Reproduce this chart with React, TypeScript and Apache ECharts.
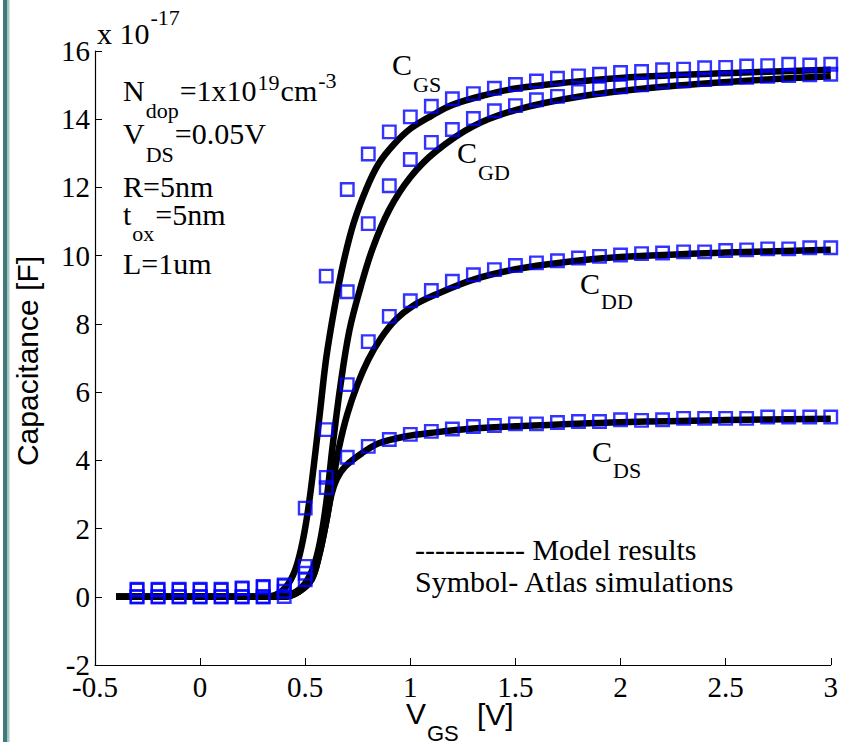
import React, { useEffect, useRef } from 'react';
import * as echarts from 'echarts';

// ---------- data ----------
const xTickValues = [-0.5, 0, 0.5, 1, 1.5, 2, 2.5, 3];
const yTickValues = [-2, 0, 2, 4, 6, 8, 10, 12, 14, 16];

// Atlas simulation points (symbols), V_GS in volts, capacitance in 1e-17 F
const vgsSim = [-0.3, -0.2, -0.1, 0, 0.1, 0.2, 0.3, 0.4, 0.5, 0.6, 0.7, 0.8, 0.9, 1.0, 1.1, 1.2, 1.3, 1.4, 1.5, 1.6, 1.7, 1.8, 1.9, 2.0, 2.1, 2.2, 2.3, 2.4, 2.5, 2.6, 2.7, 2.8, 2.9, 3.0];
const cgsSim = [0.22, 0.22, 0.22, 0.22, 0.22, 0.26, 0.3, 0.35, 2.6, 9.4, 11.94, 12.98, 13.63, 14.07, 14.38, 14.6, 14.75, 14.91, 15.02, 15.12, 15.2, 15.27, 15.32, 15.37, 15.4, 15.45, 15.47, 15.51, 15.52, 15.56, 15.57, 15.61, 15.59, 15.61];
const cgdSim = [0.2, 0.2, 0.2, 0.2, 0.2, 0.24, 0.28, 0.32, 0.89, 4.9, 8.94, 10.94, 12.05, 12.82, 13.32, 13.7, 14.02, 14.25, 14.4, 14.57, 14.67, 14.81, 14.89, 14.95, 15.01, 15.1, 15.13, 15.16, 15.2, 15.23, 15.26, 15.28, 15.3, 15.32];
const cddSim = [0, 0, 0, 0, 0, 0, 0, 0.16, 0.69, 3.5, 6.22, 7.48, 8.22, 8.68, 8.98, 9.25, 9.44, 9.59, 9.71, 9.79, 9.85, 9.93, 9.98, 10.02, 10.06, 10.08, 10.11, 10.11, 10.15, 10.17, 10.2, 10.2, 10.23, 10.23];
const cdsSim = [0, 0, 0, 0, 0, 0, 0, 0.01, 0.5, 3.2, 4.09, 4.41, 4.61, 4.76, 4.85, 4.92, 4.99, 5.02, 5.07, 5.07, 5.11, 5.14, 5.14, 5.19, 5.17, 5.19, 5.23, 5.23, 5.23, 5.23, 5.27, 5.27, 5.27, 5.27];

// Model results (solid lines)
const cgsModelV = [-0.4, 0.3, 0.36, 0.41, 0.45, 0.48, 0.51, 0.54, 0.57, 0.6, 0.64, 0.68, 0.73, 0.79, 0.85, 0.92, 1.0, 1.1, 1.2, 1.35, 1.5, 1.75, 2.0, 2.5, 3.0];
const cgsModelC = [0, 0, 0.06, 0.3, 0.75, 1.4, 2.4, 3.8, 5.4, 7.0, 8.5, 9.75, 10.95, 11.95, 12.7, 13.25, 13.72, 14.1, 14.42, 14.7, 14.9, 15.08, 15.21, 15.35, 15.45];
const cgdModelV = [-0.4, 0.36, 0.44, 0.5, 0.54, 0.57, 0.6, 0.63, 0.67, 0.71, 0.76, 0.82, 0.9, 1.0, 1.12, 1.3, 1.5, 1.8, 2.2, 2.6, 3.0];
const cgdModelC = [0, 0, 0.1, 0.4, 0.89, 1.6, 2.75, 4.4, 6.3, 7.8, 9.0, 10.2, 11.35, 12.3, 13.05, 13.8, 14.27, 14.66, 14.95, 15.13, 15.26];
const cddModelV = [-0.4, 0.4, 0.47, 0.53, 0.565, 0.6, 0.63, 0.66, 0.7, 0.75, 0.8, 0.86, 0.93, 1.01, 1.12, 1.3, 1.5, 1.75, 2.0, 2.5, 3.0];
const cddModelC = [0, 0, 0.15, 0.5, 1.18, 2.2, 3.3, 4.35, 5.35, 6.25, 6.95, 7.58, 8.12, 8.52, 8.86, 9.3, 9.6, 9.82, 9.96, 10.09, 10.17];
const cdsModelV = [-0.4, 0.4, 0.47, 0.53, 0.565, 0.6, 0.625, 0.65, 0.69, 0.77, 0.85, 0.975, 1.12, 1.3, 1.5, 2.0, 2.5, 3.0];
const cdsModelC = [0, 0, 0.15, 0.5, 1.18, 2.2, 3.0, 3.45, 3.82, 4.21, 4.5, 4.7, 4.82, 4.93, 5.0, 5.12, 5.18, 5.22];

// ---------- styling ----------
const SERIF = "'Liberation Serif', 'Times New Roman', Times, serif";
const SANS = "'Liberation Sans', Arial, Helvetica, sans-serif";

let measureCtx: CanvasRenderingContext2D | null = null;
function measure(text: string, size: number, family: string): number {
  if (!measureCtx) measureCtx = document.createElement('canvas').getContext('2d');
  measureCtx!.font = `${size}px ${family}`;
  return measureCtx!.measureText(text).width;
}

type Part = { t: string; s: number; y: number; gap?: number };
function textRun(x0: number, parts: Part[], family: string = SERIF): any[] {
  let x = x0;
  const out: any[] = [];
  for (const p of parts) {
    out.push({
      type: 'text',
      x,
      y: p.y,
      silent: true,
      style: { text: p.t, fill: '#000', font: `${p.s}px ${family}`, align: 'left', verticalAlign: 'middle' },
    });
    x += measure(p.t, p.s, family) + (p.gap ?? 1);
  }
  return out;
}

const zip = (xs: number[], ys: number[]) => xs.map((x, i) => [x, ys[i]]);

function buildOption() {
  const lineSeries = (name: string, v: number[], c: number[]) => ({
    name,
    type: 'line',
    data: zip(v, c),
    showSymbol: false,
    symbol: 'none',
    smooth: 0.35,
    lineStyle: { color: '#000', width: 6.5, join: 'round' },
    z: 2,
    silent: true,
  });
  const simSeries = (name: string, c: number[]) => ({
    name,
    type: 'scatter',
    data: zip(vgsSim, c),
    symbol: 'rect',
    symbolSize: 12.5,
    itemStyle: { color: 'rgba(0,0,0,0)', borderColor: '#0000ff', borderWidth: 2.4 },
    z: 3,
    silent: true,
  });

  const graphics: any[] = [
    // left decorative bar
    { type: 'rect', shape: { x: 3, y: 0, width: 4.5, height: 742 }, style: { fill: '#407a78' }, silent: true },
    { type: 'rect', shape: { x: 7.5, y: 0, width: 2, height: 742 }, style: { fill: '#a9c6c4' }, silent: true },
    // exponent
    ...textRun(97, [{ t: 'x 10', s: 30, y: 33 }, { t: '-17', s: 22, y: 17 }]),
    // annotations
    ...textRun(123, [
      { t: 'N', s: 30, y: 90 },
      { t: 'dop', s: 22, y: 110 },
      { t: '=1x10', s: 30, y: 90 },
      { t: '19', s: 22, y: 82 },
      { t: 'cm', s: 30, y: 90 },
      { t: '-3', s: 22, y: 80 },
    ]),
    ...textRun(123, [
      { t: 'V', s: 30, y: 133 },
      { t: 'DS', s: 22, y: 154 },
      { t: '=0.05V', s: 30, y: 133 },
    ]),
    ...textRun(123, [{ t: 'R=5nm', s: 30, y: 186 }]),
    ...textRun(123, [
      { t: 't', s: 30, y: 214 },
      { t: 'ox', s: 22, y: 233 },
      { t: '=5nm', s: 30, y: 214 },
    ]),
    ...textRun(123, [{ t: 'L=1um', s: 30, y: 263 }]),
    // curve labels
    ...textRun(392, [{ t: 'C', s: 30, y: 64 }, { t: 'GS', s: 22, y: 84 }]),
    ...textRun(457, [{ t: 'C', s: 30, y: 152 }, { t: 'GD', s: 22, y: 172 }]),
    ...textRun(580, [{ t: 'C', s: 30, y: 283 }, { t: 'DD', s: 22, y: 301 }]),
    ...textRun(592, [{ t: 'C', s: 30, y: 451 }, { t: 'DS', s: 22, y: 470 }]),
    // legend-like notes
    ...textRun(415, [{ t: '----------- Model results', s: 30, y: 549 }]),
    ...textRun(415, [{ t: 'Symbol- Atlas simulations', s: 30, y: 581 }]),
    // axis titles
    {
      type: 'text',
      x: 27,
      y: 361,
      rotation: Math.PI / 2,
      silent: true,
      style: { text: 'Capacitance [F]', fill: '#000', font: `30px ${SANS}`, align: 'center', verticalAlign: 'middle' },
    },
    ...textRun(406, [
      { t: 'V', s: 30, y: 713 },
      { t: 'GS', s: 22, y: 733 },
    ], SANS),
    ...textRun(477, [{ t: '[V]', s: 30, y: 714 }], SANS),
  ];

  return {
    animation: false,
    backgroundColor: '#ffffff',
    grid: { left: 95, top: 51, right: 8, bottom: 77, containLabel: false },
    xAxis: {
      type: 'value',
      min: xTickValues[0],
      max: xTickValues[xTickValues.length - 1],
      interval: 0.5,
      axisLine: { show: true, onZero: false, lineStyle: { color: '#000', width: 1.2 } },
      axisTick: { show: true, inside: true, length: 7, lineStyle: { color: '#000', width: 1 } },
      splitLine: { show: false },
      axisLabel: { color: '#000', fontFamily: SERIF, fontSize: 29, margin: 7, showMinLabel: true, showMaxLabel: true },
    },
    yAxis: {
      type: 'value',
      min: yTickValues[0],
      max: yTickValues[yTickValues.length - 1],
      interval: 2,
      axisLine: { show: true, onZero: false, lineStyle: { color: '#000', width: 1.2 } },
      axisTick: { show: true, inside: true, length: 7, lineStyle: { color: '#000', width: 1 } },
      splitLine: { show: false },
      axisLabel: { color: '#000', fontFamily: SERIF, fontSize: 29, margin: 5, showMinLabel: true, showMaxLabel: true },
    },
    series: [
      lineSeries('CGS model', cgsModelV, cgsModelC),
      lineSeries('CGD model', cgdModelV, cgdModelC),
      lineSeries('CDD model', cddModelV, cddModelC),
      lineSeries('CDS model', cdsModelV, cdsModelC),
      simSeries('CGS Atlas', cgsSim),
      simSeries('CGD Atlas', cgdSim),
      simSeries('CDD Atlas', cddSim),
      simSeries('CDS Atlas', cdsSim),
    ],
    graphic: graphics,
  };
}

export default function App() {
  const ref = useRef<HTMLDivElement>(null);
  useEffect(() => {
    if (!ref.current) return;
    const chart = echarts.init(ref.current, undefined, { renderer: 'svg' });
    chart.setOption(buildOption() as any);
    return () => chart.dispose();
  }, []);
  return (
    <div
      ref={ref}
      style={{ position: 'absolute', left: 0, top: 0, width: 841, height: 742, background: '#fff' }}
    />
  );
}
